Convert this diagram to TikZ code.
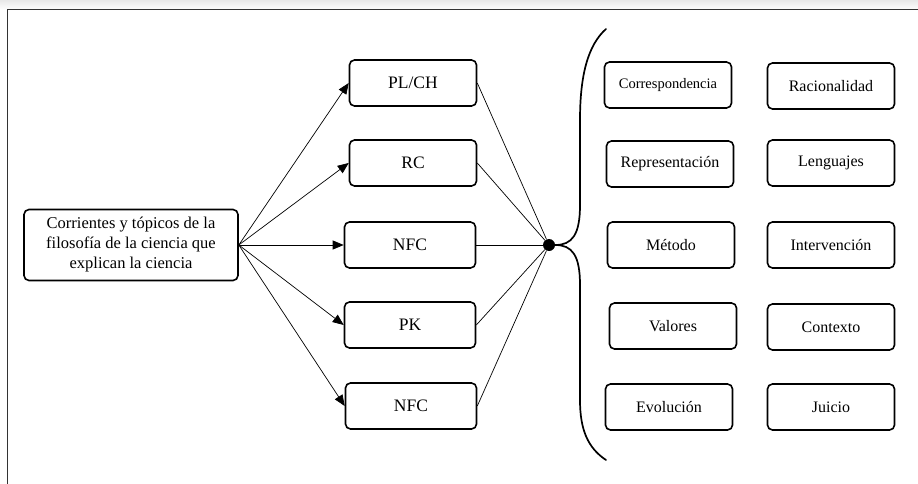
\documentclass[tikz,border=0pt]{standalone}
\usepackage{fontspec}
\setmainfont{Liberation Serif}
\usetikzlibrary{arrows.meta}
\begin{document}
\begin{tikzpicture}[x=1pt,y=-1pt,
  box/.style={draw, rounded corners=5pt, line width=1.6pt, minimum width=127pt, minimum height=46pt, inner sep=2pt, align=center},
  midbox/.style={box, font=\fontsize{17.5}{20}\selectfont},
  rbox/.style={box, font=\fontsize{16}{19}\selectfont},
  conn/.style={line width=0.7pt},
  arr/.style={conn, -{Triangle[length=11pt,width=9pt]}},
  bracestyle/.style={line width=1.7pt, line cap=round}]
\useasboundingbox (0,0) rectangle (918,484);
\shade[top color=gray!18, bottom color=white] (0,0) rectangle (918,10);
\draw[black!80, line width=1pt] (7,484) -- (7,10) -- (918,10);

\node[box, minimum width=214pt, minimum height=71pt, font=\fontsize{16.5}{20}\selectfont] (src) at (131,245) {Corrientes y tópicos de la\\filosofía de la ciencia que\\explican la ciencia};

\node[midbox] (m1) at (413,83) {PL/CH};
\node[midbox] (m2) at (413,163) {RC};
\node[midbox, minimum width=131pt] (m3) at (410,245) {NFC};
\node[midbox, minimum width=131pt] (m4) at (410,325) {PK};
\node[midbox, minimum width=131pt] (m5) at (411,406) {NFC};

\node[circle, fill, inner sep=0pt, minimum size=12pt] (hub) at (549,245) {};

\node[rbox, font=\fontsize{14.5}{17}\selectfont] (r1) at (668,85) {Correspondencia};
\node[rbox] (r2) at (831,86) {Racionalidad};
\node[rbox] (r3) at (670,164) {Representación};
\node[rbox] (r4) at (831,163) {Lenguajes};
\node[rbox] (r5) at (671,245) {Método};
\node[rbox] (r6) at (831,245) {Intervención};
\node[rbox] (r7) at (673,326) {Valores};
\node[rbox] (r8) at (831,327) {Contexto};
\node[rbox] (r9) at (669,407) {Evolución};
\node[rbox] (r10) at (831,407) {Juicio};

\foreach \m in {m1,m2,m3,m4,m5} {
  \draw[arr] (src.east) -- (\m.west);
  \draw[conn] (\m.east) -- (hub);
}

\draw[bracestyle] (606,29) .. controls (588,45) and (580,75) .. (580,120) -- (580,205)
  .. controls (580,235) and (572,245) .. (hub.east)
  .. controls (572,245) and (580,255) .. (580,285) -- (580,400)
  .. controls (580,430) and (588,448) .. (606,460);
\end{tikzpicture}
\end{document}
